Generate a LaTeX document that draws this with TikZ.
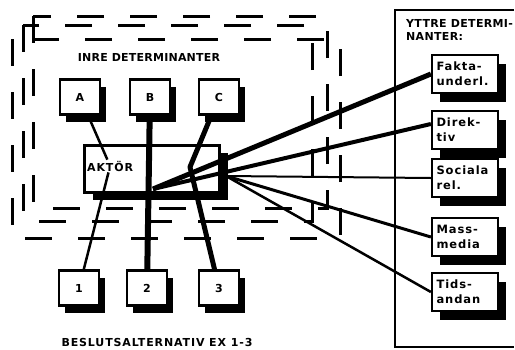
\documentclass[tikz,border=0pt]{standalone}
\usepackage{fontspec}
\setmainfont{DejaVu Sans}[LetterSpace=8]
\usetikzlibrary{shadows}
\begin{document}
\begin{tikzpicture}[x=1pt,y=-1pt,
    font=\bfseries\fontsize{11}{15}\selectfont,
    ramme/.style={line width=3pt, dash pattern=on 27pt off 26pt},
    kant/.style={draw, line width=2.2pt, fill=white, inner sep=0pt},
    liten/.style={kant, minimum width=40pt, minimum height=35pt,
      general shadow={fill=black, shadow xshift=6pt, shadow yshift=-7pt}},
    ytre/.style={kant, minimum width=66pt, minimum height=38pt,
      text width=57pt, align=left,
      font=\bfseries\fontsize{11.5}{15}\selectfont,
      general shadow={fill=black, shadow xshift=8pt, shadow yshift=-9pt}}]
    \useasboundingbox (0,0) rectangle (515,349);
    % inre determinanter
    \draw[ramme] (33,16) rectangle (327,208);
    \draw[ramme] (23,25) rectangle (312,221);
    \draw[ramme] (12,39) rectangle (340,238);
    % yttre determinanter
    \draw[line width=2pt] (514,10) -- (395,10) -- (395,347) -- (514,347);
    \node[font=\bfseries\fontsize{11}{15}\selectfont\addfontfeature{LetterSpace=2}]
      (inre) at (149,57) {INRE DETERMINANTER};
    \node[anchor=north west, align=left, inner sep=0pt,
      font=\bfseries\fontsize{11}{13}\selectfont\addfontfeature{LetterSpace=3}]
      (yttre) at (406,19) {YTTRE DETERMI-\\NANTER:};
    \node (beslut) at (157,342) {BESLUTSALTERNATIV EX 1-3};
    \node[liten] (a) at (80,97) {A};
    \node[liten] (b) at (150,97) {B};
    \node[liten] (c) at (219,97) {C};
    \node[liten] (one) at (79,288) {1};
    \node[liten] (two) at (147,288) {2};
    \node[liten] (three) at (219,288) {3};
    \node[kant, minimum width=135pt, minimum height=47pt,
      general shadow={fill=black, shadow xshift=8pt, shadow yshift=-7pt}]
      (aktor) at (152,169) {};
    \node[anchor=west, inner sep=1pt] (aktlbl) at (86,166) {AKTÖR};
    \coordinate (hub) at (153,189);
    \coordinate (hubr) at (226,176);
    \coordinate (cjoin) at (190,167);
    \draw[line width=2.5pt] (a) -- (aktlbl);
    \draw[line width=2.5pt] (aktlbl) -- (one);
    \draw[line width=6pt] (b) -- (two);
    \draw[line width=5pt, line join=round] (c) -- (cjoin) -- (three);
    \node[ytre] (fakta) at (465,74) {Fakta-\\underl.};
    \node[ytre] (direktiv) at (465,130) {Direk-\\tiv};
    \node[ytre] (sociala) at (465,178) {Sociala\\rel.};
    \node[ytre] (massmedia) at (465,237) {Mass-\\media};
    \node[ytre] (tidsandan) at (465,292) {Tids-\\andan};
    \draw[line width=5pt] (hub) -- (fakta.west);
    \draw[line width=4pt] (hub) -- (direktiv.170);
    \draw[line width=2pt] (hubr) -- (sociala.west);
    \draw[line width=3pt] (hubr) -- (massmedia.west);
    \draw[line width=2.5pt] (hubr) -- (tidsandan.west);
\end{tikzpicture}
\end{document}
